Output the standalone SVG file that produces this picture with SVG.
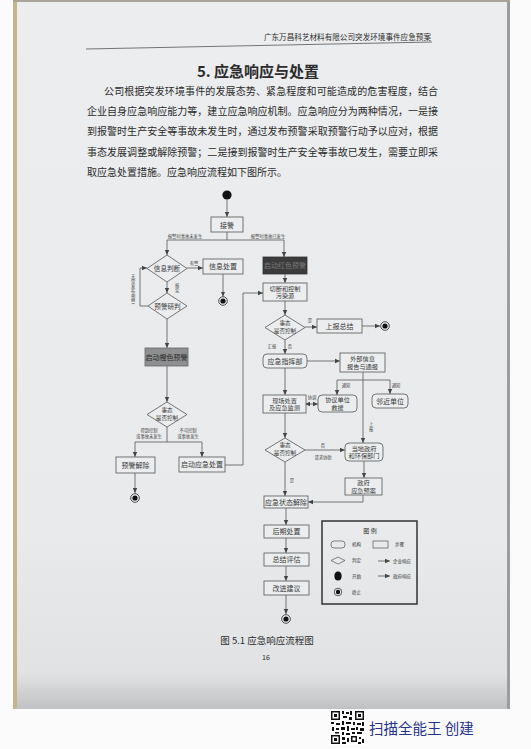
<svg xmlns="http://www.w3.org/2000/svg" width="531" height="749" viewBox="0 0 531 749">
<defs>
<linearGradient id="paper" x1="0" y1="0" x2="0" y2="1">
<stop offset="0" stop-color="#ebedee"/>
<stop offset="0.75" stop-color="#e8eaeb"/>
<stop offset="0.95" stop-color="#e0e2e3"/>
<stop offset="1" stop-color="#c0c1c3"/>
</linearGradient>
<marker id="ah" markerWidth="6" markerHeight="6" refX="5" refY="3" orient="auto" markerUnits="userSpaceOnUse">
<path d="M0,0.8 L5,3 L0,5.2 Z" fill="#444"/>
</marker>
<marker id="ahs" markerWidth="6" markerHeight="6" refX="1" refY="3" orient="auto" markerUnits="userSpaceOnUse">
<path d="M5,0.8 L0,3 L5,5.2 Z" fill="#444"/>
</marker>
</defs>
<style>
.cn{font-family:"Noto Sans CJK SC","Liberation Serif",serif;fill:#2b2b2b}
.body{font-size:10px}
.nt{font-size:7px;text-anchor:middle;fill:#3a3a3a}
.n2{font-size:6.2px}
.dt{font-size:5.6px}
.sm{font-size:4.3px;fill:#444}
.box{fill:#ebedee;stroke:#666;stroke-width:0.9}
.c{fill:none;stroke:#555;stroke-width:0.8}
.a{marker-end:url(#ah)}
.leg{font-size:4.5px;fill:#333}
</style>
<rect width="531" height="749" fill="#fbfbfb"/>
<rect x="13" y="0" width="497" height="709" fill="url(#paper)"/>
<rect x="13" y="0" width="4" height="709" fill="#c4b58d"/>
<rect x="507" y="0" width="3" height="709" fill="#9c9d9f"/>
<rect x="13" y="0" width="497" height="2" fill="#a8a49a"/>

<g id="header">
<text class="cn" x="431" y="40" font-size="7.6" text-anchor="end" fill="#333">广东万昌科艺材料有限公司突发环境事件应急预案</text>
<line x1="86" y1="49" x2="432" y2="42" stroke="#555" stroke-width="0.8"/>
</g>
<g id="title">
<text class="cn" x="258" y="77" font-size="15" font-weight="bold" text-anchor="middle" fill="#1e1e1e">5. 应急响应与处置</text>
</g>
<g id="paragraph">
<text class="cn body" x="104" y="95" textLength="334" lengthAdjust="spacing">公司根据突发环境事件的发展态势、紧急程度和可能造成的危害程度，结合</text>
<text class="cn body" x="87" y="115" textLength="351" lengthAdjust="spacing">企业自身应急响应能力等，建立应急响应机制。应急响应分为两种情况，一是接</text>
<text class="cn body" x="87" y="135" textLength="351" lengthAdjust="spacing">到报警时生产安全等事故未发生时，通过发布预警采取预警行动予以应对，根据</text>
<text class="cn body" x="87" y="156" textLength="351" lengthAdjust="spacing">事态发展调整或解除预警；二是接到报警时生产安全等事故已发生，需要立即采</text>
<text class="cn body" x="87" y="176">取应急处置措施。应急响应流程如下图所示。</text>
</g>

<g id="connectors">
<path class="c a" d="M227,199.5 V217"/>
<path class="c" d="M227,232 V240 M167,240 H284"/>
<path class="c a" d="M167,240 V255"/>
<path class="c a" d="M284,240 V257"/>
<path class="c a" d="M187,268 H203"/>
<path class="c a" d="M223,274 V296.5"/>
<path class="c a" d="M167,282 V293"/>
<path class="c a" d="M148,306 H140 V268 H147"/>
<path class="c a" d="M167,319 V348"/>
<path class="c a" d="M167,366 V402"/>
<path class="c" d="M167,427 V442 M135,442 H202"/>
<path class="c a" d="M135,442 V457"/>
<path class="c a" d="M202,442 V457"/>
<path class="c a" d="M135,473 V493"/>
<path class="c a" d="M225,465 H243 V293 H263"/>
<path class="c a" d="M285,274 V283"/>
<path class="c a" d="M285,301 V315"/>
<path class="c a" d="M305,327 H317"/>
<path class="c a" d="M362,326 H380"/>
<path class="c a" d="M285,340 V354"/>
<path class="c a" d="M307,361 H340"/>
<path class="c a" d="M363,372 V443"/>
<path class="c" d="M337,380 H390"/>
<path class="c a" d="M337,380 V395"/>
<path class="c a" d="M390,380 V394"/>
<path class="c a" d="M285,368 V395"/>
<path class="c a" d="M306,404 H318" marker-start="url(#ahs)"/>
<path class="c a" d="M285,413 V438"/>
<path class="c a" d="M305,450 H345"/>
<path class="c a" d="M364,461 V478"/>
<path class="c a" d="M363,495 V502 H308"/>
<path class="c a" d="M285,462 V496"/>
<path class="c a" d="M286,508 V525"/>
<path class="c a" d="M286,538 V553"/>
<path class="c a" d="M286,566 V581"/>
<path class="c a" d="M286,595 V614"/>
<g class="cn sm">
<text x="185" y="238" text-anchor="middle">报警时事故未发生</text>
<text x="268" y="238" text-anchor="middle">报警时事故已发生</text>
<text x="194" y="265" text-anchor="middle">有警</text>
<text x="175" y="287">报</text>
<text x="175" y="292">实</text>
<text x="131" y="278">无</text>
<text x="131" y="283">需</text>
<text x="131" y="288">发</text>
<text x="131" y="293">布</text>
<text x="131" y="298">预</text>
<text x="131" y="303">警</text>
<text x="149" y="432" text-anchor="middle">得到控制</text>
<text x="149" y="438" text-anchor="middle">或事故未发生</text>
<text x="188" y="432" text-anchor="middle">不可控制</text>
<text x="188" y="438" text-anchor="middle">或事故发生</text>
<text x="310" y="322" text-anchor="middle">是</text>
<text x="272" y="348" text-anchor="middle">汇报</text>
<text x="290" y="348" text-anchor="middle">否</text>
<text x="346" y="387" text-anchor="middle">通知</text>
<text x="396" y="387" text-anchor="middle">通知</text>
<text x="312" y="399" text-anchor="middle">协调</text>
<text x="369" y="426">上</text>
<text x="369" y="431">报</text>
<text x="323" y="447" text-anchor="middle">否</text>
<text x="323" y="459" text-anchor="middle">请求协助</text>
<text x="292" y="482" text-anchor="middle">是</text>
</g>
</g>

<g id="start"><circle cx="227" cy="195" r="4.6" fill="#111"/></g>
<g id="jiejing"><rect class="box" x="211" y="217" width="32" height="15"/><text class="cn nt" x="227" y="227.5">接警</text></g>
<g id="xinxipanduan"><path class="box" d="M167,255 L187,268.5 L167,282 L147,268.5 Z"/><text class="cn nt" x="167" y="271" font-size="6.6" style="font-size:6.6px">信息判断</text></g>
<g id="xinxichuzhi"><rect class="box" x="203" y="259" width="40" height="15"/><text class="cn nt" x="223" y="269">信息处置</text></g>
<g id="end1"><circle cx="223" cy="301" r="4.3" fill="#f0f0f0" stroke="#222" stroke-width="0.8"/><circle cx="223" cy="301" r="2.6" fill="#111"/></g>
<g id="yujingyanpan"><path class="box" d="M167,293 L187,306 L167,319 L148,306 Z"/><text class="cn nt" x="167.5" y="308.5" style="font-size:6.6px">预警研判</text></g>
<g id="chengse"><rect x="145" y="348" width="43" height="18" fill="#8e8f90" stroke="#666" stroke-width="0.8"/><text class="cn nt" x="166.5" y="359.5" style="fill:#2a2a2a">启动橙色预警</text></g>
<g id="kongzhi1"><path class="box" d="M167,402 L187,414.5 L167,427 L147,414.5 Z"/><text class="cn nt dt" x="167" y="411.5">事态</text><text class="cn nt dt" x="167" y="419.5">是否控制</text></g>
<g id="yujingjiechu"><rect class="box" x="116" y="457" width="39" height="16"/><text class="cn nt" x="135.5" y="467.5">预警解除</text></g>
<g id="qidongyingji"><rect class="box" x="179" y="457" width="46" height="15"/><text class="cn nt" x="202" y="467">启动应急处置</text></g>
<g id="end2"><circle cx="135" cy="498" r="4.3" fill="#f0f0f0" stroke="#222" stroke-width="0.8"/><circle cx="135" cy="498" r="2.6" fill="#111"/></g>
<g id="hongse"><rect x="263" y="257" width="44" height="17" fill="#3b3b3c" stroke="#333" stroke-width="0.8"/><text class="cn nt" x="285" y="268" style="fill:#7a7a7a">启动红色预警</text></g>
<g id="qieduan"><rect class="box" x="263" y="283" width="44" height="18"/><text class="cn nt n2" x="285" y="290.5">切断和控制</text><text class="cn nt n2" x="285" y="298">污染源</text></g>
<g id="kongzhi2"><path class="box" d="M285,315 L305,327.5 L285,340 L265,327.5 Z"/><text class="cn nt dt" x="285" y="324.5">事态</text><text class="cn nt dt" x="285" y="332.5">是否控制</text></g>
<g id="shangbao"><rect class="box" x="317" y="319" width="45" height="14"/><text class="cn nt" x="339.5" y="328.5">上报总结</text></g>
<g id="end3"><circle cx="385" cy="326" r="4.3" fill="#f0f0f0" stroke="#222" stroke-width="0.8"/><circle cx="385" cy="326" r="2.6" fill="#111"/></g>
<g id="zhihuibu"><rect class="box" x="263" y="354" width="44" height="14" rx="4"/><text class="cn nt" x="285" y="363.5">应急指挥部</text></g>
<g id="waibu"><rect class="box" x="340" y="353" width="45" height="19"/><text class="cn nt n2" x="362.5" y="361">外部信息</text><text class="cn nt n2" x="362.5" y="369">报告与通报</text></g>
<g id="xieyi"><rect class="box" x="318" y="395" width="39" height="17" rx="4"/><text class="cn nt n2" x="337.5" y="402">协议单位</text><text class="cn nt n2" x="337.5" y="409.5">救援</text></g>
<g id="linjin"><rect class="box" x="372" y="394" width="36" height="14" rx="4"/><text class="cn nt" x="390" y="403.5">邻近单位</text></g>
<g id="xianchang"><rect class="box" x="263" y="395" width="43" height="18"/><text class="cn nt n2" x="284.5" y="402.5">现场处置</text><text class="cn nt n2" x="284.5" y="410">及应急监测</text></g>
<g id="kongzhi3"><path class="box" d="M285,438 L305,450 L285,462 L265,450 Z"/><text class="cn nt dt" x="285" y="447">事态</text><text class="cn nt dt" x="285" y="455">是否控制</text></g>
<g id="zhengfu"><rect class="box" x="345" y="443" width="38" height="18" rx="4"/><text class="cn nt n2" x="364" y="450.5">当地政府</text><text class="cn nt n2" x="364" y="458">和环保部门</text></g>
<g id="zhengfuyuan"><rect class="box" x="345" y="478" width="37" height="17"/><text class="cn nt n2" x="363.5" y="485">政府</text><text class="cn nt n2" x="363.5" y="492.5">应急预案</text></g>
<g id="jiechu"><rect class="box" x="264" y="496" width="44" height="12"/><text class="cn nt" x="286" y="504.5">应急状态解除</text></g>
<g id="houqi"><rect class="box" x="264" y="525" width="45" height="13"/><text class="cn nt" x="286.5" y="534">后期处置</text></g>
<g id="zongjie"><rect class="box" x="264" y="553" width="45" height="13"/><text class="cn nt" x="286.5" y="562">总结评估</text></g>
<g id="gaijin"><rect class="box" x="264" y="581" width="45" height="14"/><text class="cn nt" x="286.5" y="590.5">改进建议</text></g>
<g id="end4"><circle cx="286" cy="619" r="4.3" fill="#f0f0f0" stroke="#222" stroke-width="0.8"/><circle cx="286" cy="619" r="2.6" fill="#111"/></g>

<g id="legend">
<rect x="322" y="521" width="95" height="83" fill="none" stroke="#333" stroke-width="1.5"/>
<text class="cn leg" x="370" y="533" text-anchor="middle" style="font-size:6px">图 例</text>
<rect x="331" y="541" width="14" height="7" rx="3" fill="none" stroke="#555" stroke-width="0.7"/>
<text class="cn leg" x="352" y="546">机构</text>
<rect x="373" y="541" width="15" height="7" fill="none" stroke="#555" stroke-width="0.7"/>
<text class="cn leg" x="395" y="546">步骤</text>
<path d="M338,557 L345,560.5 L338,564 L331,560.5 Z" fill="none" stroke="#555" stroke-width="0.7"/>
<text class="cn leg" x="352" y="562">判定</text>
<path class="c a" d="M378,561 H390"/>
<text class="cn leg" x="393" y="562.5">企业响应</text>
<ellipse cx="338" cy="576" rx="3.6" ry="4.5" fill="#111"/>
<text class="cn leg" x="352" y="577.5">开始</text>
<path class="c a" d="M378,576 H390"/>
<text class="cn leg" x="393" y="577.5">政府响应</text>
<circle cx="338" cy="592" r="3.8" fill="none" stroke="#222" stroke-width="0.7"/>
<circle cx="338" cy="592" r="2.2" fill="#111"/>
<text class="cn leg" x="352" y="593.5">终止</text>
</g>

<g id="caption">
<text class="cn" x="267" y="643.5" font-size="9.5" text-anchor="middle" fill="#333">图 5.1 应急响应流程图</text>
<text class="cn" x="266" y="660" font-size="7" text-anchor="middle" fill="#333">16</text>
</g>

<g id="watermark">
<rect x="330" y="710" width="35" height="35" fill="#fff"/>
<g fill="#111">
<rect x="331" y="711" width="9" height="9"/><rect x="332.5" y="712.5" width="6" height="6" fill="#fff"/><rect x="334" y="714" width="3" height="3"/>
<rect x="355" y="711" width="9" height="9"/><rect x="356.5" y="712.5" width="6" height="6" fill="#fff"/><rect x="358" y="714" width="3" height="3"/>
<rect x="331" y="735" width="9" height="9"/><rect x="332.5" y="736.5" width="6" height="6" fill="#fff"/><rect x="334" y="738" width="3" height="3"/>
<rect x="342" y="711" width="2" height="3"/><rect x="346" y="712" width="3" height="2"/><rect x="350" y="711" width="2" height="4"/><rect x="343" y="716" width="4" height="2"/><rect x="349" y="717" width="3" height="3"/>
<rect x="331" y="722" width="3" height="2"/><rect x="336" y="723" width="4" height="2"/><rect x="342" y="721" width="2" height="4"/><rect x="346" y="722" width="5" height="2"/><rect x="353" y="722" width="2" height="3"/><rect x="357" y="723" width="4" height="2"/><rect x="362" y="722" width="2" height="4"/>
<rect x="332" y="727" width="2" height="4"/><rect x="336" y="728" width="3" height="2"/><rect x="341" y="727" width="4" height="3"/><rect x="347" y="726" width="2" height="5"/><rect x="351" y="728" width="4" height="2"/><rect x="356" y="727" width="2" height="3"/><rect x="360" y="728" width="4" height="3"/>
<rect x="335" y="732" width="4" height="1.5"/><rect x="342" y="732" width="2" height="3"/><rect x="346" y="733" width="4" height="2"/><rect x="352" y="732" width="3" height="2"/><rect x="357" y="732" width="5" height="2"/>
<rect x="342" y="737" width="3" height="3"/><rect x="347" y="738" width="2" height="4"/><rect x="351" y="736" width="6" height="6"/><rect x="352.5" y="737.5" width="3" height="3" fill="#fff"/><rect x="359" y="737" width="2" height="2"/><rect x="362" y="739" width="2" height="4"/><rect x="342" y="742" width="4" height="2"/><rect x="358" y="742" width="3" height="2"/>
</g>
<text x="369" y="734" font-family="Noto Sans CJK SC, sans-serif" font-size="14.5" fill="#26338a">扫描全能王 创建</text>
</g>
</svg>
